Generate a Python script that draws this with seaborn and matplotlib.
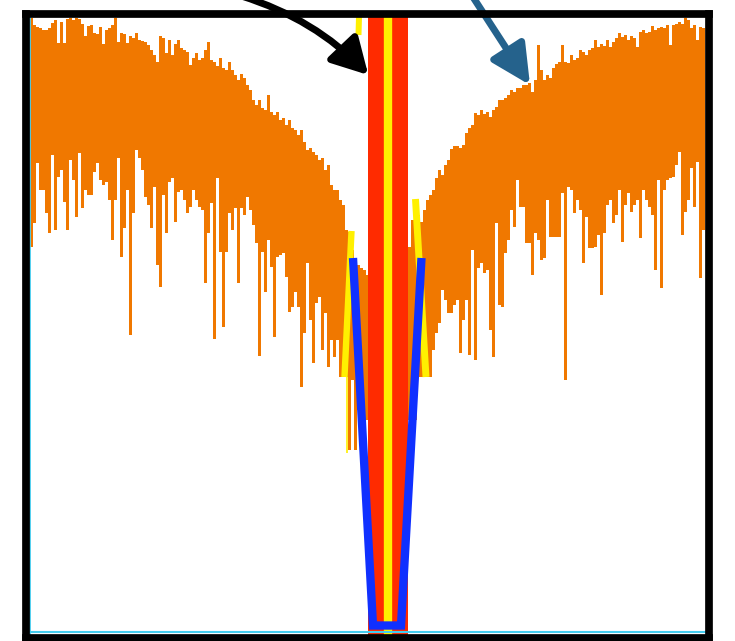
import numpy as np
import matplotlib
matplotlib.use("Agg")
import matplotlib.pyplot as plt
import seaborn as sns

# ---------------- data (level, larger = deeper) ----------------
left_top = [18, 25, 27, 28, 30, 30, 28, 23, 20, 43,
            22, 43, 19, 18, 20, 18, 19, 24, 36, 26,
            25, 33, 34, 27, 44, 30, 28, 25, 18, 42,
            33, 34, 43, 36, 38, 33, 40, 41, 42, 45,
            50, 55, 62, 36, 38, 53, 40, 55, 44, 40,
            48, 50, 52, 65, 58, 53, 60, 58, 50, 42,
            60, 62, 66, 58, 68, 70, 62, 70, 75, 80,
            74, 78, 85, 90, 100, 105, 100, 108, 110, 95,
            112, 115, 112, 120, 118, 125, 120, 128, 130, 135,
            130, 142, 150, 148, 152, 155, 160, 158, 170, 165,
            185, 190, 190, 200, 205, 230,
            232, 250, 260, 265, 268, 270, 275]
left_bottom = [247, 223, 163, 190, 190, 213, 233, 155, 230, 177,
               170, 202, 230, 160, 180, 217, 153, 208, 190, 195,
               195, 172, 163, 180, 185, 182, 200, 240, 200, 158,
               257, 228, 190, 335, 213, 150, 158, 170, 197, 205,
               228, 187, 265, 287, 195, 233, 182, 178, 222, 192,
               190, 200, 213, 207, 190, 200, 207, 210, 283, 233,
               203, 339, 178, 252, 327, 252, 213, 230, 208, 283,
               208, 215, 197, 210, 225, 243, 356, 252, 292, 240,
               267, 337, 257, 255, 253, 277, 312, 307, 292, 307,
               387, 333, 263, 320, 363, 303, 297, 350, 313, 367,
               340, 357, 340, 377, 377, 377,
               450, 380, 450, 410, 427, 427, 420]
right_top = [247, 220, 205,
             215, 222, 210, 200, 195, 190, 178, 170, 175, 165,
             160, 149, 146, 146, 148, 145, 133, 128, 125, 113,
             115, 110, 114, 112, 117, 110, 107, 100, 100, 98,
             95, 90, 92, 88, 88, 85, 85, 83, 92, 80,
             45, 70, 80, 75, 78, 68, 64, 62, 45, 62,
             63, 55, 60, 58, 50, 52, 55, 50, 48, 40,
             47, 44, 46, 40, 47, 42, 38, 33, 37, 35,
             40, 36, 38, 47, 32, 30, 33, 32, 26, 30,
             28, 27, 28, 25, 45, 25, 24, 22, 24, 18,
             20, 28, 25, 40, 27, 28]
right_bottom = [420, 425, 420,
                377, 377, 377, 377, 377, 350, 333, 323, 290, 300,
                313, 313, 305, 300, 353, 320, 300, 355, 250, 360,
                268, 263, 273, 270, 330, 357, 223, 305, 307, 253,
                240, 210, 227, 180, 207, 207, 243, 243, 275, 233,
                240, 260, 258, 200, 237, 237, 237, 237, 193, 380,
                187, 190, 213, 200, 210, 263, 217, 248, 248, 247,
                235, 295, 233, 205, 200, 223, 215, 190, 242, 205,
                193, 212, 205, 200, 238, 190, 200, 207, 215, 270,
                180, 288, 190, 180, 178, 177, 165, 152, 235, 212,
                200, 168, 207, 162, 278, 230]
right_start_bin = 126

notch_lo, notch_hi = 112.67, 126.0
notch_center = 119.33
filter_x = [107.67, 114.33, 123.67, 130.5]
filter_y = [258, 625.5, 625.5, 258]
guide_top_x, guide_top_y = [109.67, 109.5], [17, 35]
guide_left_x, guide_left_y = [107.17, 104.83], [231, 377]
guide_right_x, guide_right_y = [128.5, 132.0], [199, 377]
guide_thin_x, guide_thin_y = [105.83, 105.83], [377, 453]

ORANGE = "#f07800"
RED = "#ff2b00"
YELLOW = "#fff000"
BLUE = "#1030ff"
STEEL = "#25628c"
CYAN = "#44ccee"

sns.set_theme(style="white")
W, H = 735, 641
fig = plt.figure(figsize=(W / 100, H / 100), dpi=100)
ax = fig.add_axes([26.2 / W, 1 - 638 / H, (708.8 - 26.2) / W, (638 - 13.9) / H])
ax.set_xlim(-1.267, 226.27)
ax.set_ylim(638, 13.9)

lx = np.arange(len(left_top)) + 0.5
rx = right_start_bin + np.arange(len(right_top)) + 0.5
ax.bar(lx, np.array(left_bottom) - np.array(left_top), bottom=left_top,
       width=1.0, color=ORANGE, linewidth=0, zorder=2)
ax.bar(rx, np.array(right_bottom) - np.array(right_top), bottom=right_top,
       width=1.0, color=ORANGE, linewidth=0, zorder=2)

for gx, gy, lw in [(guide_top_x, guide_top_y, 4.3), (guide_left_x, guide_left_y, 4.6),
                   (guide_right_x, guide_right_y, 5.0), (guide_thin_x, guide_thin_y, 1.2)]:
    ax.plot(gx, gy, color=YELLOW, lw=lw, solid_capstyle="butt", zorder=3)

ax.axvspan(notch_lo, notch_hi, color=RED, lw=0, zorder=4)
ax.axvline(notch_center, color=YELLOW, lw=6.0, zorder=5)

sns.lineplot(x=filter_x, y=filter_y, sort=False, estimator=None, color=BLUE,
             lw=6.0, ax=ax, zorder=6, solid_joinstyle="miter", solid_capstyle="butt")

ax.axvline(0, color=CYAN, lw=1.3, zorder=7)
ax.axhline(632.5, color=CYAN, lw=1.5, zorder=7)

ax.annotate("", xy=(112.77, 75), xytext=(70.5, -4), xycoords="data", textcoords="data",
            annotation_clip=False,
            arrowprops=dict(arrowstyle="-|>,head_length=1.08,head_width=0.6",
                            mutation_scale=20, lw=5.0, color="black",
                            connectionstyle="arc3,rad=-0.13", shrinkA=0, shrinkB=0))
ax.annotate("", xy=(166.67, 85), xytext=(147.0, -6), xycoords="data", textcoords="data",
            annotation_clip=False,
            arrowprops=dict(arrowstyle="-|>,head_length=1.2,head_width=0.6",
                            mutation_scale=20, lw=5.0, color=STEEL,
                            shrinkA=0, shrinkB=0))

ax.set_xticks([])
ax.set_yticks([])
for s in ax.spines.values():
    s.set_visible(True)
    s.set_color("black")
    s.set_linewidth(5.55)
    s.set_zorder(10)

fig.savefig("out.png", dpi=100)
